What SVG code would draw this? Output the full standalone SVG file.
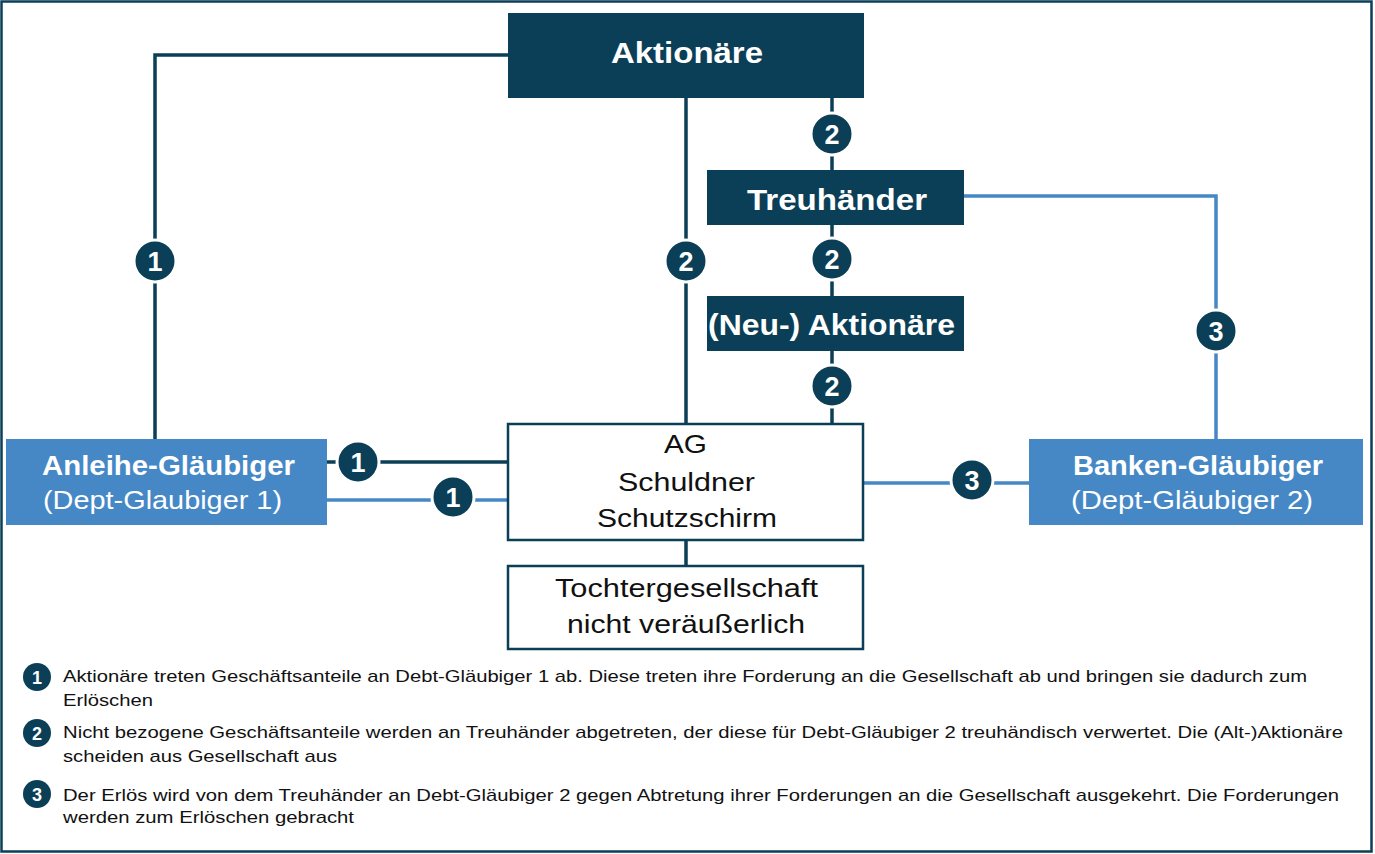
<svg xmlns="http://www.w3.org/2000/svg" width="1375" height="854" viewBox="0 0 1375 854" font-family="Liberation Sans, Arial, sans-serif">
<defs>
<style>
.dk{fill:#0b3f57}
.bl{fill:#4688c6}
.wb{fill:#fff;stroke:#0b3f57;stroke-width:2.5}
.ld{fill:none;stroke:#0b3f57;stroke-width:3.5}
.lb{fill:none;stroke:#4688c6;stroke-width:3.5}
.bd circle{fill:#0b3f57;stroke:#fff;stroke-width:3}
.bd text{fill:#fff;font-weight:bold;font-size:27px;text-anchor:middle}
.tw{fill:#fff;font-weight:bold;text-anchor:middle}
.tr{fill:#fff;font-size:26px;text-anchor:middle}
.tb{fill:#111;font-size:26px;text-anchor:middle}
.lg{fill:#111;font-size:17px}
.lgb circle{fill:#0b3f57}
.lgb text{fill:#fff;font-weight:bold;font-size:18px;text-anchor:middle}
</style>
</defs>
<rect x="0" y="0" width="1375" height="854" fill="#fff"/>
<rect x="1.5" y="1.5" width="1370" height="850" fill="none" stroke="#0b3f57" stroke-width="2.5"/>

<g id="connectors">
<polyline class="ld" points="508,55 155,55 155,439"/>
<line class="ld" x1="686" y1="98" x2="686" y2="424"/>
<line class="ld" x1="832" y1="98" x2="832" y2="170"/>
<line class="ld" x1="832" y1="225" x2="832" y2="296"/>
<line class="ld" x1="832" y1="351" x2="832" y2="424"/>
<line class="ld" x1="686" y1="540" x2="686" y2="566"/>
<line class="ld" x1="327" y1="462" x2="508" y2="462"/>
<line class="lb" x1="327" y1="500" x2="508" y2="500"/>
<line class="lb" x1="863" y1="483" x2="1029" y2="483"/>
<polyline class="lb" points="964,196 1216,196 1216,439"/>
<g class="bd">
<circle cx="155" cy="261" r="21"/><text x="155" y="271">1</text>
<circle cx="686" cy="261" r="21"/><text x="686" y="271">2</text>
<circle cx="832" cy="134" r="21"/><text x="832" y="144">2</text>
<circle cx="832" cy="259" r="21"/><text x="832" y="269">2</text>
<circle cx="832" cy="386" r="21"/><text x="832" y="396">2</text>
<circle cx="358" cy="462" r="21"/><text x="358" y="472">1</text>
<circle cx="453" cy="497" r="21"/><text x="453" y="507">1</text>
<circle cx="972" cy="480" r="21"/><text x="972" y="490">3</text>
<circle cx="1216" cy="331" r="21"/><text x="1216" y="341">3</text>
</g>
</g>

<g id="aktionaere">
<rect class="dk" x="508" y="13" width="356" height="85"/>
<text class="tw" x="687" y="63" font-size="29" textLength="152" lengthAdjust="spacingAndGlyphs">Aktionäre</text>
</g>
<g id="treuhaender">
<rect class="dk" x="707" y="170" width="257" height="55"/>
<text class="tw" x="837" y="210" font-size="29" textLength="180" lengthAdjust="spacingAndGlyphs">Treuhänder</text>
</g>
<g id="neu-aktionaere">
<rect class="dk" x="707" y="296" width="257" height="55"/>
<text class="tw" x="831.5" y="335" font-size="29" textLength="247" lengthAdjust="spacingAndGlyphs">(Neu-) Aktionäre</text>
</g>
<g id="ag">
<rect class="wb" x="508" y="424" width="355" height="116"/>
<text class="tb" x="685.5" y="453" textLength="43" lengthAdjust="spacingAndGlyphs">AG</text>
<text class="tb" x="686.5" y="491" textLength="137" lengthAdjust="spacingAndGlyphs">Schuldner</text>
<text class="tb" x="687" y="527" textLength="180" lengthAdjust="spacingAndGlyphs">Schutzschirm</text>
</g>
<g id="tochter">
<rect class="wb" x="508" y="566" width="355" height="83"/>
<text class="tb" x="686.5" y="597" textLength="263" lengthAdjust="spacingAndGlyphs">Tochtergesellschaft</text>
<text class="tb" x="686" y="633" textLength="238" lengthAdjust="spacingAndGlyphs">nicht veräußerlich</text>
</g>
<g id="anleihe">
<rect class="bl" x="6" y="439" width="321" height="86"/>
<text class="tw" x="168.5" y="475" font-size="27" textLength="253" lengthAdjust="spacingAndGlyphs">Anleihe-Gläubiger</text>
<text class="tr" x="162.5" y="509" textLength="239" lengthAdjust="spacingAndGlyphs">(Dept-Glaubiger 1)</text>
</g>
<g id="banken">
<rect class="bl" x="1029" y="439" width="334" height="86"/>
<text class="tw" x="1198" y="475" font-size="27" textLength="250" lengthAdjust="spacingAndGlyphs">Banken-Gläubiger</text>
<text class="tr" x="1192" y="509" textLength="242" lengthAdjust="spacingAndGlyphs">(Dept-Gläubiger 2)</text>
</g>

<g id="legend">
<g class="lgb">
<circle cx="37" cy="677" r="14"/><text x="37" y="683.5">1</text>
<circle cx="37" cy="733" r="14"/><text x="37" y="739.5">2</text>
<circle cx="37" cy="794" r="14"/><text x="37" y="800.5">3</text>
</g>
<text class="lg" x="63" y="682" textLength="1244" lengthAdjust="spacingAndGlyphs">Aktionäre treten Geschäftsanteile an Debt-Gläubiger 1 ab. Diese treten ihre Forderung an die Gesellschaft ab und bringen sie dadurch zum</text>
<text class="lg" x="63" y="706" textLength="90" lengthAdjust="spacingAndGlyphs">Erlöschen</text>
<text class="lg" x="63" y="738" textLength="1280" lengthAdjust="spacingAndGlyphs">Nicht bezogene Geschäftsanteile werden an Treuhänder abgetreten, der diese für Debt-Gläubiger 2 treuhändisch verwertet. Die (Alt-)Aktionäre</text>
<text class="lg" x="63" y="762" textLength="274" lengthAdjust="spacingAndGlyphs">scheiden aus Gesellschaft aus</text>
<text class="lg" x="63" y="801" textLength="1276" lengthAdjust="spacingAndGlyphs">Der Erlös wird von dem Treuhänder an Debt-Gläubiger 2 gegen Abtretung ihrer Forderungen an die Gesellschaft ausgekehrt. Die Forderungen</text>
<text class="lg" x="63" y="823" textLength="291" lengthAdjust="spacingAndGlyphs">werden zum Erlöschen gebracht</text>
</g>
</svg>
